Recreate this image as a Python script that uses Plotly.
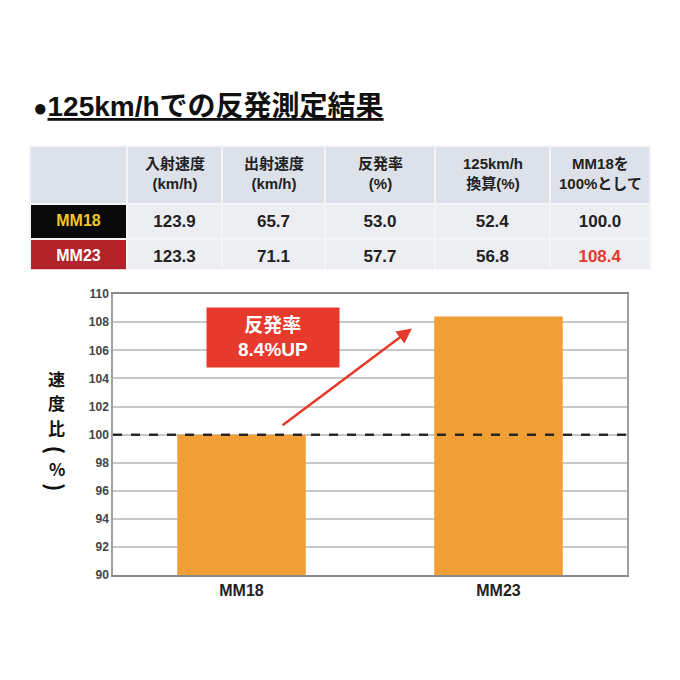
import plotly.graph_objects as go

# table data
headers = ["入射速度<br>(km/h)", "出射速度<br>(km/h)", "反発率<br>(%)", "125km/h<br>換算(%)", "MM18を<br>100%として"]
models = ["MM18", "MM23"]
in_speed = ["123.9", "123.3"]
out_speed = ["65.7", "71.1"]
rebound = ["53.0", "57.7"]
rebound_125 = ["52.4", "56.8"]
ratio = [100.0, 108.4]

# chart axis
y_ticks = [90, 92, 94, 96, 98, 100, 102, 104, 106, 108, 110]
# vertical axis title: (char, rotation) - brackets are turned to read top-to-bottom
y_title_chars = [("速", 0), ("度", 0), ("比", 0), ("(", 90), ("%", 0), (")", 90)]

FONT = "Liberation Sans, Noto Sans CJK JP, sans-serif"
ORANGE = "#f09e35"
RED = "#e53a2c"

# the page puts the figure 8px in from the corner, so shift everything back
OFF = 8


def px(x):
    return (x - OFF) / 680


def py(y):
    return 1 - (y - OFF) / 680


fig = go.Figure()

col_edges = [30, 127, 222, 325, 435, 550, 650]
col_w = [col_edges[i + 1] - col_edges[i] for i in range(6)]
cell_bg = "#eceef2"
fig.add_trace(go.Table(
    domain=dict(x=[px(30), px(650)], y=[py(268), py(142)]),
    columnwidth=col_w,
    header=dict(
        values=[""] * 6,
        fill_color="#dde1ea",
        line=dict(color="#f4f5f8", width=2),
        height=58,
    ),
    cells=dict(
        values=[
            ["<b>%s</b>" % m for m in models],
            ["<b>%s</b>" % v for v in in_speed],
            ["<b>%s</b>" % v for v in out_speed],
            ["<b>%s</b>" % v for v in rebound],
            ["<b>%s</b>" % v for v in rebound_125],
            ["<b>%.1f</b>" % v for v in ratio],
        ],
        fill_color=[["#0a0a0a", "#b3232a"]] + [[cell_bg, cell_bg]] * 5,
        font=dict(
            family=FONT, size=[16, 17, 17, 17, 17, 17],
            color=[["#f2c62a", "white"], ["#222"] * 2, ["#222"] * 2,
                   ["#222"] * 2, ["#222"] * 2, ["#222", RED]],
        ),
        line=dict(color="#f4f5f8", width=2),
        align="center",
        height=31,
    ),
))

# header labels (centred per line)
for i, h in enumerate(headers):
    cx = (col_edges[i + 1] + col_edges[i + 2]) / 2
    fig.add_annotation(xref="paper", yref="paper", x=px(cx), y=py(170),
                       xanchor="center", yanchor="middle", align="center",
                       text="<b>%s</b>" % h, showarrow=False,
                       font=dict(family=FONT, size=15, color="#222"))

# bar chart
fig.add_trace(go.Bar(
    x=models, y=ratio, width=0.5,
    marker=dict(color=ORANGE, line=dict(width=0)),
    showlegend=False,
))

# dashed reference line at 100
fig.add_shape(type="line", xref="paper", x0=px(113), x1=px(627), yref="y", y0=100, y1=100,
              line=dict(color="#222", width=2, dash="dash"), layer="above")

# arrow + label box
fig.add_annotation(x=0.663, y=107.56, ax=0.154, ay=100.59, xref="x", yref="y", axref="x", ayref="y",
                   text="", showarrow=True, arrowhead=2, arrowsize=1.2, arrowwidth=2.5, arrowcolor=RED)
fig.add_annotation(xref="paper", yref="paper", x=px(273), y=py(337),
                   xanchor="center", yanchor="middle",
                   text="<b>反発率<br>8.4%UP</b>", showarrow=False,
                   bgcolor=RED, width=130, height=57, align="center",
                   font=dict(family=FONT, size=19, color="white"))

# title
fig.add_annotation(xref="paper", yref="paper", x=px(31), y=py(101), xanchor="left", yanchor="middle",
                   text="<b><span style='font-size:24px'>●</span><u>125km/hでの反発測定結果</u></b>",
                   showarrow=False,
                   font=dict(family=FONT, size=28, color="#111"))

# vertical y-axis title, one character per line
char_y = [379, 404, 429, 452, 471, 490]
for (ch, ang), cy in zip(y_title_chars, char_y):
    fig.add_annotation(xref="paper", yref="paper", x=px(57), y=py(cy), xanchor="center", yanchor="middle",
                       text="<b>%s</b>" % ch, showarrow=False, textangle=ang,
                       font=dict(family="Noto Sans CJK JP", size=17 if ang == 0 else 22, color="#111"))

fig.update_layout(
    width=680, height=680,
    margin=dict(l=0, r=0, t=0, b=0),
    paper_bgcolor="white",
    plot_bgcolor="white",
    shapes=[dict(type="rect", xref="paper", yref="paper", x0=px(10), x1=px(670),
                 y0=py(668), y1=py(10), fillcolor="#f4f4f4",
                 line=dict(width=0), layer="below")] + list(fig.layout.shapes),
    xaxis=dict(domain=[px(113), px(627)],
               showline=True, linecolor="#8a8a8a", linewidth=2, mirror=True,
               tickfont=dict(family=FONT, size=16, color="#222", weight="bold"),
               ticks=""),
    yaxis=dict(domain=[py(580), py(293)], range=[90, 110],
               tickvals=y_ticks, showgrid=True, gridcolor="#c8c8c8", gridwidth=1.5,
               showline=True, linecolor="#a0a0a0", linewidth=1.5, mirror=True,
               tickfont=dict(family=FONT, size=12, color="#444", weight="bold"),
               ticks="", zeroline=False),
    font=dict(family=FONT),
)

fig.write_html("out.html")
